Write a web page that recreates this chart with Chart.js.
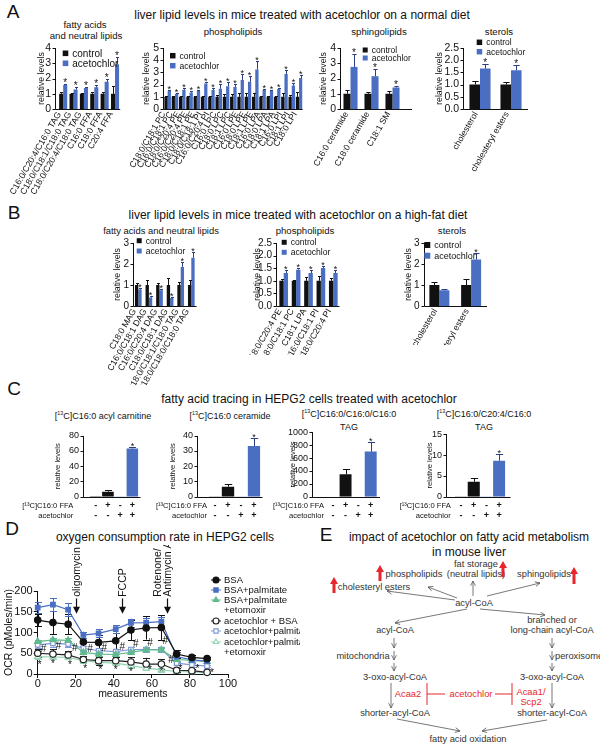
<!DOCTYPE html>
<html>
<head>
<meta charset="utf-8">
<script src="https://cdn.jsdelivr.net/npm/chart.js@4.4.1/dist/chart.umd.min.js"></script>
<style>
body { margin: 0; width: 600px; height: 745px; position: relative; overflow: hidden; background: #fff;
       font-family: "Liberation Sans", Arial, Helvetica, sans-serif; color: #111; }
.t { position: absolute; white-space: nowrap; transform: translate(-50%, -50%); line-height: 1; }
.p { position: absolute; font-size: 19px; line-height: 1; transform: translate(-50%, -50%); }
canvas { position: absolute; }
sup { font-size: 60%; line-height: 0; }
</style>
</head>
<body>
<div class="p" style="left:13px;top:11px">A</div>
<div class="p" style="left:14px;top:212px">B</div>
<div class="p" style="left:14px;top:388px">C</div>
<div class="p" style="left:12px;top:528px">D</div>
<div class="p" style="left:326px;top:534px">E</div>

<div class="t" style="left:302px;top:15px;font-size:12px">liver lipid levels in mice treated with acetochlor on a normal diet</div>
<div class="t" style="left:85px;top:25px;font-size:9.6px">fatty acids</div>
<div class="t" style="left:86px;top:36px;font-size:9.6px">and neutral lipids</div>
<div class="t" style="left:233px;top:32px;font-size:9.6px">phospholipids</div>
<div class="t" style="left:379px;top:32px;font-size:9.6px">sphingolipids</div>
<div class="t" style="left:499px;top:32px;font-size:9.6px">sterols</div>

<div class="t" style="left:298px;top:215px;font-size:12px">liver lipid levels in mice treated with acetochlor on a high-fat diet</div>
<div class="t" style="left:161px;top:231px;font-size:9.4px">fatty acids and neutral lipids</div>
<div class="t" style="left:305px;top:231px;font-size:9.6px">phospholipids</div>
<div class="t" style="left:452px;top:231px;font-size:9.6px">sterols</div>

<div class="t" style="left:309px;top:399px;font-size:12px">fatty acid tracing in HEPG2 cells treated with acetochlor</div>
<div class="t" style="left:103px;top:416px;font-size:9px">[<sup>13</sup>C]C16:0 acyl carnitine</div>
<div class="t" style="left:230px;top:416px;font-size:9px">[<sup>13</sup>C]C16:0 ceramide</div>
<div class="t" style="left:349px;top:414px;font-size:9px">[<sup>13</sup>C]C16:0/C16:0/C16:0</div>
<div class="t" style="left:349px;top:427px;font-size:9px">TAG</div>
<div class="t" style="left:484px;top:414px;font-size:9px">[<sup>13</sup>C]C16:0/C20:4/C16:0</div>
<div class="t" style="left:484px;top:427px;font-size:9px">TAG</div>

<div class="t" style="left:165px;top:537px;font-size:12px">oxygen consumption rate in HEPG2 cells</div>

<svg width="300" height="225" style="position:absolute;left:300px;top:520px"
     font-family="Liberation Sans, Arial, Helvetica, sans-serif">
  <defs>
    <marker id="ah" viewBox="0 0 10 10" refX="9" refY="5" markerWidth="6" markerHeight="6"
            orient="auto" markerUnits="userSpaceOnUse">
      <path d="M1,1 L9,5 L1,9" fill="none" stroke="#555" stroke-width="1.3"/>
    </marker>
  </defs>
  <text x="169" y="17" font-size="12" text-anchor="middle" dominant-baseline="central" fill="#111">impact of acetochlor on fatty acid metabolism</text>
  <text x="169" y="32" font-size="12" text-anchor="middle" dominant-baseline="central" fill="#111">in mouse liver</text>
  <g font-size="9.3" fill="#333" text-anchor="middle" dominant-baseline="central">
    <text x="176" y="44">fat storage</text>
    <text x="176" y="54">(neutral lipids)</text>
    <text x="114" y="54">phospholipids</text>
    <text x="244" y="54">sphingolipids</text>
    <text x="74" y="67">cholesteryl esters</text>
    <text x="174" y="83">acyl-CoA</text>
    <text x="95" y="110">acyl-CoA</text>
    <text x="252" y="100">branched or</text>
    <text x="252" y="110">long-chain acyl-CoA</text>
    <text x="63" y="136">mitochondria</text>
    <text x="255" y="136" text-anchor="start">peroxisome</text>
    <text x="95" y="157">3-oxo-acyl-CoA</text>
    <text x="252" y="157">3-oxo-acyl-CoA</text>
    <text x="95" y="193">shorter-acyl-CoA</text>
    <text x="252" y="193">shorter-acyl-CoA</text>
    <text x="168" y="219">fatty acid oxidation</text>
  </g>
  <g stroke="#555" stroke-width="0.8" fill="none" marker-end="url(#ah)">
    <line x1="157" y1="78" x2="128" y2="67"/>
    <line x1="155" y1="80" x2="87" y2="71"/>
    <line x1="173" y1="76" x2="173" y2="61"/>
    <line x1="187" y1="76" x2="240" y2="63"/>
    <line x1="167" y1="89" x2="95" y2="103"/>
    <line x1="180" y1="89" x2="245" y2="95"/>
    <line x1="94" y1="118" x2="94" y2="128"/>
    <line x1="94" y1="131" x2="94" y2="140"/>
    <line x1="94" y1="143" x2="94" y2="151"/>
    <line x1="252" y1="118" x2="252" y2="128"/>
    <line x1="252" y1="131" x2="252" y2="140"/>
    <line x1="252" y1="143" x2="252" y2="151"/>
    <line x1="91" y1="163" x2="91" y2="188"/>
    <line x1="252" y1="163" x2="252" y2="188"/>
    <line x1="97" y1="199" x2="160" y2="211"/>
    <line x1="247" y1="200" x2="182" y2="211"/>
  </g>
  <g fill="#e8262b">
    <polygon points="203,41 207,48 204.5,48 204.5,57 201.5,57 201.5,48 199,48"/>
    <polygon points="80,45 84,52 81.5,52 81.5,61 78.5,61 78.5,52 76,52"/>
    <polygon points="274,47 278,54 275.5,54 275.5,64 272.5,64 272.5,54 270,54"/>
    <polygon points="34,57 38,64 35.5,64 35.5,73 32.5,73 32.5,64 30,64"/>
  </g>
  <g stroke="#e8262b" stroke-width="1">
    <line x1="127" y1="174" x2="145" y2="174"/>
    <line x1="127" y1="163" x2="127" y2="185"/>
    <line x1="195" y1="174" x2="212" y2="174"/>
    <line x1="212" y1="163" x2="212" y2="185"/>
  </g>
  <g font-size="9.3" fill="#e8262b" text-anchor="middle" dominant-baseline="central">
    <text x="108" y="174">Acaa2</text>
    <text x="171" y="174">acetochlor</text>
    <text x="231" y="172">Acaa1/</text>
    <text x="231" y="182">Scp2</text>
  </g>
</svg>

<script>
const FONT = '"Liberation Sans", Arial, Helvetica, sans-serif';
const BLACK = '#111111', BLUE = '#4a6fc2', BLUE_D = '#2b3f80';

// ---- A: normal diet ----
const aFaLabels = ['C16:0/C20:4/C16:0 TAG', 'C18:0/C18:1/C18:0 TAG', 'C18:0/C20:4/C18:0 TAG', 'C16:0 FFA', 'C18:0 FFA', 'C20:4 FFA'];
const aFaCtrl = [1, 1, 1, 1, 1, 1];
const aFaCtrlErr = [0.11, 0.04, 0.04, 0.13, 0.13, 0.5];
const aFaAceto = [1.57, 1.28, 1.37, 1.42, 1.78, 2.93];
const aFaAcetoErr = [0.06, 0.16, 0.09, 0.15, 0.18, 0.48];
const aFaStars = [1, 1, 1, 1, 1, 1];

const aPlLabels = ['C18:0/C18:1 PC', 'C16:0/C18:1 PC', 'C18:0/C20:4 PE', 'C16:0/C20:4 PE', 'C18:0/C18:1 PE',
  'C18:0/C18:1 PI', 'C16:0/C20:4 PI', 'C16:0 LPC', 'C18:0 LPC', 'C18:1 LPC', 'C16:0 LPE', 'C18:0 LPE',
  'C18:1 LPE', 'C16:0 LPA', 'C18:0 LPA', 'C18:1 LPA', 'C16:0 LPI', 'C18:1 LPI', 'C18:0 LPI'];
const aPlCtrl = [1, 1, 1, 1, 1, 1, 1, 1, 1, 1, 1, 1, 1, 1, 1, 1, 1, 1, 1];
const aPlCtrlErr = [0.08, 0.06, 0.06, 0.08, 0.06, 0.08, 0.08, 0.12, 0.2, 0.25, 0.3, 0.3, 0.35, 0.1, 0.1, 0.08, 0.3, 0.12, 0.4];
const aPlAceto = [1.47, 1.24, 1.58, 1.35, 1.47, 2.1, 1.55, 1.66, 1.87, 1.81, 2.38, 2.23, 3.24, 1.55, 1.47, 1.63, 2.87, 1.92, 2.54];
const aPlAcetoErr = [0.08, 0.06, 0.12, 0.1, 0.1, 0.15, 0.15, 0.35, 0.35, 0.25, 0.45, 0.45, 0.7, 0.05, 0.12, 0.1, 0.35, 0.2, 0.25];
const aPlStars = aPlLabels.map(() => 1);

const aSpLabels = ['C16:0 ceramide', 'C18:0 ceramide', 'C18:1 SM'];
const aSpCtrl = [1, 1, 1];
const aSpCtrlErr = [0.24, 0.1, 0.17];
const aSpAceto = [2.76, 2.15, 1.41];
const aSpAcetoErr = [0.87, 0.5, 0.09];
const aSpStars = [1, 1, 1];

const aStLabels = ['cholesterol', 'cholesteryl esters'];
const aStCtrl = [1, 1];
const aStCtrlErr = [0.14, 0.11];
const aStAceto = [1.66, 1.59];
const aStAcetoErr = [0.2, 0.23];
const aStStars = [1, 1];

// ---- B: high-fat diet ----
const bFaLabels = ['C18:0 MAG', 'C16:0/C18:1 DAG', 'C16:0/C20:4 DAG', 'C18:0/C18:1 DAG', 'C18:0/C18:1/C18:0 TAG', 'C18:0/C18:0/C18:0 TAG'];
const bFaCtrl = [1, 1, 1, 1, 1, 1];
const bFaCtrlErr = [0.1, 0.25, 0.1, 0.33, 0.14, 0.25];
const bFaAceto = [0.78, 0.4, 0.75, 0.38, 1.86, 2.3];
const bFaAcetoErr = [0.08, 0.06, 0.08, 0.06, 0.24, 0.27];
const bFaStars = [1, 1, 1, 1, 1, 1];

const bPlLabels = ['C18:0/C20:4 PE', 'C18:0/C18:1 PC', 'C18:1 LPA', 'C16:0/C18:1 PI', 'C18:0/C20:4 PI'];
const bPlCtrl = [1, 1, 1, 1, 1];
const bPlCtrlErr = [0.08, 0.03, 0.15, 0.21, 0.13];
const bPlAceto = [1.31, 1.44, 1.31, 1.51, 1.31];
const bPlAcetoErr = [0.1, 0.07, 0.13, 0.09, 0.1];
const bPlStars = [1, 1, 1, 1, 1];

const bStLabels = ['cholesterol', 'cholesteryl esters'];
const bStCtrl = [1, 1];
const bStCtrlErr = [0.15, 0.27];
const bStAceto = [0.75, 2.21];
const bStAcetoErr = [0.08, 0.3];
const bStStars = [0, 1];

// ---- C: tracing ----
const cLabels = [['-', '-'], ['+', '-'], ['-', '+'], ['+', '+']];
const cRows = ['[\u00b9\u00b3C]C16:0 FFA', 'acetochlor'];
const cCarn = [0.6, 6.6, 0.4, 63.3];
const cCarnErr = [0, 2.1, 0, 1.3];
const cCer = [0.1, 6.6, 0.1, 33.2];
const cCerErr = [0, 1.5, 0, 5.1];
const cTag1 = [0, 347, 0, 700];
const cTag1Err = [0, 88, 0, 150];
const cTag2 = [0.05, 3.6, 0.05, 8.66];
const cTag2Err = [0, 0.8, 0, 1.6];
const cStars = [0, 0, 0, 1];

// ---- D: OCR ----
const dX = [0, 8, 16, 24, 32, 41, 49, 57, 65, 73, 81, 89];
const dBsa = [130, 124, 120, 77, 76, 80, 106, 111, 112, 48, 40, 37];
const dBsaErr = [15, 28, 24, 10, 18, 20, 25, 28, 30, 10, 5, 4];
const dPalm = [160, 167, 155, 94, 98, 108, 123, 124, 126, 42, 34, 31];
const dPalmErr = [14, 15, 15, 8, 10, 10, 10, 12, 12, 10, 5, 4];
const dEto = [78, 82, 81, 52, 48, 47, 52, 58, 58, 35, 33, 30];
const dEtoErr = [5, 5, 5, 5, 5, 5, 5, 5, 5, 5, 3, 3];
const dAcBsa = [50, 48, 46, 35, 32, 32, 29, 24, 24, 9, 8, 4];
const dAcBsaErr = [10, 12, 10, 8, 10, 10, 12, 15, 12, 5, 3, 2];
const dAcPalm = [70, 74, 72, 62, 56, 54, 59, 59, 59, 26, 22, 19];
const dAcPalmErr = [8, 8, 8, 6, 6, 6, 6, 6, 6, 5, 4, 3];
const dAcEto = [42, 41, 40, 32, 28, 26, 20, 14, 10, 6, 5, 3];
const dAcEtoErr = [5, 5, 5, 5, 5, 5, 5, 5, 5, 3, 2, 2];
const dNames = ['BSA', 'BSA+palmitate', ['BSA+palmitate', '+etomoxir'], 'acetochlor + BSA',
  'acetochlor+palmitate', ['acetochlor+palmitate', '+etomoxir']];
const dDrugs = [['oligomycin'], ['FCCP'], ['Rotenone/', 'Antimycin A']];
const dDrugX = [20, 44.5, 68];
const dHash = [[3, 60], [11, 66], [19.5, 63], [27.5, 60], [35, 63], [44.5, 65], [51.5, 72], [59, 75], [67, 79], [70, 34]];
const dStar = [[1, 25], [8, 28], [17, 25], [25, 17], [33, 14], [41, 14], [49, 10], [59, 14], [65, 10], [75, 17], [84, 17], [91.5, 7]];

Chart.defaults.font.family = FONT;
Chart.defaults.color = '#111';
Chart.defaults.animation = false;

// axes, error bars, stars, legends, row headers for the bar panels
const gp = {
  id: 'gp',
  afterDatasetsDraw(chart, args, o) {
    const ctx = chart.ctx, a = chart.chartArea, ys = chart.scales.y, xs = chart.scales.x;
    const ax = Math.round(a.left - (o.gap || 0)) + 0.5;
    const by = Math.round(a.bottom) + 0.5;
    ctx.save();
    ctx.lineWidth = 1;
    ctx.strokeStyle = '#111';
    ctx.beginPath();
    ctx.moveTo(ax, Math.round(a.top));
    ctx.lineTo(ax, by);
    ctx.lineTo(a.right + (o.xExt || 0), by);
    ys.ticks.forEach(t => {
      const y = Math.round(ys.getPixelForValue(t.value)) + 0.5;
      ctx.moveTo(ax - 3, y);
      ctx.lineTo(ax, y);
    });
    ctx.stroke();

    const ss = o.starSize || 10;
    chart.data.datasets.forEach((ds, i) => {
      chart.getDatasetMeta(i).data.forEach((bar, j) => {
        let top = bar.y;
        const e = ds.errors ? ds.errors[j] : 0;
        if (e) {
          const ye = Math.round(ys.getPixelForValue(ds.data[j] + e)) + 0.5;
          const bx = Math.round(bar.x) + 0.5;
          const hw = Math.max(1.5, bar.width * 0.3);
          ctx.strokeStyle = Array.isArray(ds.errColor) ? ds.errColor[j] : ds.errColor;
          ctx.beginPath();
          ctx.moveTo(bx, bar.y);
          ctx.lineTo(bx, ye);
          ctx.moveTo(bx - hw, ye);
          ctx.lineTo(bx + hw, ye);
          ctx.stroke();
          top = ye;
        }
        if (ds.stars && ds.stars[j]) {
          ctx.fillStyle = '#111';
          ctx.font = ss + 'px ' + FONT;
          ctx.textAlign = 'center';
          ctx.textBaseline = 'alphabetic';
          ctx.fillText('*', bar.x, top + 0.42 * ss - 2.5);
        }
      });
    });

    if (o.legend) {
      const L = o.legend;
      ctx.font = L.size + 'px ' + FONT;
      ctx.textAlign = 'left';
      ctx.textBaseline = 'middle';
      chart.data.datasets.forEach((ds, i) => {
        const x = L.x - o.ox, y = L.y + i * L.dy - o.oy;
        ctx.fillStyle = ds.backgroundColor;
        ctx.fillRect(x, y - L.sq / 2, L.sq, L.sq);
        ctx.fillStyle = '#111';
        ctx.fillText(ds.label, x + L.sq + 4, y + 0.5);
      });
    }
    if (o.headers) {
      const H = o.headers;
      ctx.font = H.size + 'px ' + FONT;
      ctx.fillStyle = '#111';
      ctx.textAlign = 'right';
      ctx.textBaseline = 'middle';
      cRows.forEach((t, k) => ctx.fillText(t, H.right - o.ox, xs.top + H.pad + (k + 0.5) * H.lh));
    }
    ctx.restore();
  }
};

function pair(ctrl, ctrlErr, aceto, acetoErr, stars, pct) {
  return [
    { label: 'control', data: ctrl, errors: ctrlErr, backgroundColor: BLACK, errColor: BLACK,
      categoryPercentage: pct, barPercentage: 1 },
    { label: 'acetochlor', data: aceto, errors: acetoErr, stars: stars, backgroundColor: BLUE, errColor: BLUE_D,
      categoryPercentage: pct, barPercentage: 1 }
  ];
}

function single(values, errs, pct) {
  return [{ label: 'levels', data: values, errors: errs, stars: cStars,
    backgroundColor: [BLACK, BLACK, BLUE, BLUE], errColor: [BLACK, BLACK, BLUE_D, BLUE_D],
    categoryPercentage: pct, barPercentage: 1 }];
}

function barChart(o) {
  const ts = o.titleSize || 8.7;
  const lh = ts * 1.2;
  const scaleLeft = o.titleX - lh / 2;
  const yW = o.area[0] - scaleLeft;
  const xH = o.cy + o.ch - o.area[3];
  const cv = document.createElement('canvas');
  cv.width = o.cw;
  cv.height = o.ch;
  cv.style.left = o.cx + 'px';
  cv.style.top = o.cy + 'px';
  cv.style.width = o.cw + 'px';
  cv.style.height = o.ch + 'px';
  document.body.appendChild(cv);
  return new Chart(cv, {
    type: 'bar',
    data: { labels: o.labels, datasets: o.datasets },
    options: {
      responsive: false,
      devicePixelRatio: 1,
      layout: { padding: { left: scaleLeft - o.cx, top: o.area[1] - o.cy, right: o.cx + o.cw - o.area[2], bottom: 0 } },
      plugins: {
        legend: { display: false },
        tooltip: { enabled: false },
        gp: { gap: o.gap || 0, xExt: o.xExt || 0, ox: o.cx, oy: o.cy, legend: o.legend,
              headers: o.headers, starSize: o.starSize }
      },
      scales: {
        x: {
          grid: { display: false, drawTicks: false },
          border: { display: false },
          ticks: { autoSkip: false, maxRotation: o.rot, minRotation: o.rot, padding: o.xPad,
                   labelOffset: o.labelOffset || 0, font: o.xFont, color: '#111' },
          afterFit: s => { s.height = xH; s.paddingLeft = 0; s.paddingRight = 0; }
        },
        y: {
          min: 0, max: o.yMax,
          grid: { display: false, drawTicks: false },
          border: { display: false },
          ticks: { stepSize: o.yStep, autoSkip: false, padding: (o.gap || 0) + 4, font: { size: o.tickSize || 10.5 },
                   color: '#111', callback: v => o.yDec ? v.toFixed(o.yDec) : v },
          title: { display: true, text: 'relative levels', font: { size: ts }, padding: 0, color: '#111' },
          afterFit: s => { s.width = yW; s.paddingTop = 0; s.paddingBottom = 0; }
        }
      }
    },
    plugins: [gp]
  });
}

const rotFont = { size: 8.7 };

// Panel A
barChart({ cx: 4, cy: 30, cw: 122, ch: 170, area: [58, 48, 120.2, 109], gap: 3, titleX: 41.7,
  labels: aFaLabels, datasets: pair(aFaCtrl, aFaCtrlErr, aFaAceto, aFaAcetoErr, aFaStars, 0.78),
  yMax: 4, yStep: 1, rot: 60, xFont: rotFont, xPad: 1, labelOffset: -4,
  legend: { x: 62.7, y: 53.3, dy: 10, size: 10, sq: 5.6 } });
barChart({ cx: 120, cy: 30, cw: 190, ch: 170, area: [164, 48, 302.7, 109], gap: 1, titleX: 146.7,
  labels: aPlLabels, datasets: pair(aPlCtrl, aPlCtrlErr, aPlAceto, aPlAcetoErr, aPlStars, 0.9),
  yMax: 5, yStep: 1, rot: 60, xFont: rotFont, xPad: 1, labelOffset: -4, starSize: 9,
  legend: { x: 170, y: 55.7, dy: 10, size: 8.6, sq: 5.5 } });
barChart({ cx: 300, cy: 30, cw: 120, ch: 170, area: [340, 48, 403, 109], gap: 0, xExt: 9, titleX: 323.3,
  labels: aSpLabels, datasets: pair(aSpCtrl, aSpCtrlErr, aSpAceto, aSpAcetoErr, aSpStars, 0.67),
  yMax: 4, yStep: 1, rot: 60, xFont: rotFont, xPad: 1, labelOffset: -4,
  legend: { x: 362.7, y: 50, dy: 8, size: 8.5, sq: 5 } });
barChart({ cx: 425, cy: 30, cw: 115, ch: 170, area: [464.5, 48, 526.5, 109], gap: 1.5, xExt: 1.5, titleX: 440,
  labels: aStLabels, datasets: pair(aStCtrl, aStCtrlErr, aStAceto, aStAcetoErr, aStStars, 0.68),
  yMax: 2.5, yStep: 0.5, yDec: 1, rot: 60, xFont: rotFont, xPad: 1, labelOffset: -4,
  legend: { x: 476.7, y: 42.3, dy: 9.4, size: 8.5, sq: 5.5 } });

// Panel B
barChart({ cx: 60, cy: 233, cw: 145, ch: 152, area: [133, 243, 196.6, 306], gap: 0, titleX: 117.3,
  labels: bFaLabels, datasets: pair(bFaCtrl, bFaCtrlErr, bFaAceto, bFaAcetoErr, bFaStars, 0.63),
  yMax: 3, yStep: 1, tickSize: 10, rot: 60, xFont: rotFont, xPad: 1, labelOffset: -4, starSize: 9,
  legend: { x: 136.7, y: 240.7, dy: 10.3, size: 8.6, sq: 5 } });
barChart({ cx: 215, cy: 233, cw: 135, ch: 122, area: [277.5, 243, 339.5, 306], gap: 1.5, titleX: 257.7,
  labels: bPlLabels, datasets: pair(bPlCtrl, bPlCtrlErr, bPlAceto, bPlAcetoErr, bPlStars, 0.7),
  yMax: 2.5, yStep: 0.5, yDec: 1, tickSize: 10, rot: 60, xFont: rotFont, xPad: 1, labelOffset: -4, starSize: 9,
  legend: { x: 281.7, y: 242.3, dy: 10, size: 8.6, sq: 5 } });
barChart({ cx: 380, cy: 233, cw: 120, ch: 112, area: [423.5, 243, 487, 306], gap: 0, titleX: 408.3,
  labels: bStLabels, datasets: pair(bStCtrl, bStCtrlErr, bStAceto, bStAcetoErr, bStStars, 0.63),
  yMax: 3, yStep: 1, tickSize: 10, rot: 60, xFont: rotFont, xPad: 1, labelOffset: -4, starSize: 9,
  legend: { x: 424.3, y: 245, dy: 10.7, size: 9, sq: 6 } });

// Panel C
const cFont = { size: 9, weight: 'bold', lineHeight: '10px' };
const cHead = (right) => ({ right: right, size: 7.6, pad: 4, lh: 10 });
barChart({ cx: 20, cy: 425, cw: 130, ch: 100, area: [89.6, 435.7, 138.5, 496.7], gap: 6.6, xExt: 2, titleX: 58.3,
  labels: cLabels, datasets: single(cCarn, cCarnErr, 0.95), yMax: 80, yStep: 20, tickSize: 9, titleSize: 7.6,
  rot: 0, xFont: cFont, xPad: 4, starSize: 9, headers: cHead(73.3) });
barChart({ cx: 150, cy: 425, cw: 120, ch: 100, area: [208.5, 435.7, 260.5, 496.7], gap: 11.5, xExt: 2, titleX: 173.3,
  labels: cLabels, datasets: single(cCer, cCerErr, 0.95), yMax: 40, yStep: 10, tickSize: 9, titleSize: 7.6,
  rot: 0, xFont: cFont, xPad: 4, starSize: 9, headers: cHead(207) });
barChart({ cx: 265, cy: 425, cw: 120, ch: 100, area: [326.7, 432.3, 377, 496.7], gap: 14.7, xExt: 3, titleX: 293,
  labels: cLabels, datasets: single(cTag1, cTag1Err, 0.95), yMax: 1000, yStep: 200, tickSize: 9, titleSize: 7.6,
  rot: 0, xFont: cFont, xPad: 4, starSize: 9, headers: cHead(324) });
barChart({ cx: 390, cy: 425, cw: 125, ch: 100, area: [454.7, 434.3, 505.5, 496.7], gap: 8.7, xExt: 5, titleX: 430,
  labels: cLabels, datasets: single(cTag2, cTag2Err, 0.95), yMax: 15, yStep: 5, tickSize: 9, titleSize: 7.6,
  rot: 0, xFont: cFont, xPad: 4, starSize: 9, headers: cHead(450.7) });

// Panel D
const dSeries = [
  { y: dBsa, e: dBsaErr, color: '#111111', style: 'circle', open: false },
  { y: dPalm, e: dPalmErr, color: '#4a6fc2', style: 'rect', open: false },
  { y: dEto, e: dEtoErr, color: '#5fba8c', style: 'triangle', open: false },
  { y: dAcBsa, e: dAcBsaErr, color: '#222222', style: 'circle', open: true },
  { y: dAcPalm, e: dAcPalmErr, color: '#7f99d8', style: 'rect', open: true },
  { y: dAcEto, e: dAcEtoErr, color: '#94d3b3', style: 'triangle', open: true }
];

const dPlug = {
  id: 'dExtras',
  beforeDatasetsDraw(chart) {
    const ctx = chart.ctx, xs = chart.scales.x, ys = chart.scales.y;
    ctx.save();
    ctx.lineWidth = 1;
    chart.data.datasets.forEach(ds => {
      ctx.strokeStyle = ds.borderColor;
      ds.data.forEach((p, j) => {
        const x = Math.round(xs.getPixelForValue(p.x)) + 0.5;
        const y1 = ys.getPixelForValue(p.y + ds.errors[j]), y2 = ys.getPixelForValue(Math.max(0, p.y - ds.errors[j]));
        ctx.beginPath();
        ctx.moveTo(x, y1); ctx.lineTo(x, y2);
        ctx.moveTo(x - 3.5, Math.round(y1) + 0.5); ctx.lineTo(x + 3.5, Math.round(y1) + 0.5);
        ctx.moveTo(x - 3.5, Math.round(y2) + 0.5); ctx.lineTo(x + 3.5, Math.round(y2) + 0.5);
        ctx.stroke();
      });
    });
    ctx.restore();
  },
  afterDatasetsDraw(chart) {
    const ctx = chart.ctx, xs = chart.scales.x, ys = chart.scales.y;
    ctx.save();
    ctx.fillStyle = '#111';
    ctx.strokeStyle = '#111';
    ctx.font = '10px ' + FONT;
    ctx.textAlign = 'center';
    ctx.textBaseline = 'middle';
    dHash.forEach(p => ctx.fillText('#', xs.getPixelForValue(p[0]), ys.getPixelForValue(p[1])));
    dStar.forEach(p => ctx.fillText('*', xs.getPixelForValue(p[0]), ys.getPixelForValue(p[1]) + 2));

    // drug injection arrows
    dDrugX.forEach((dx, k) => {
      const x = Math.round(xs.getPixelForValue(dx)) + 0.5;
      const yTop = ys.getPixelForValue(182), yTip = ys.getPixelForValue(145);
      ctx.lineWidth = 1.2;
      ctx.beginPath();
      ctx.moveTo(x, yTop); ctx.lineTo(x, yTip - 5);
      ctx.stroke();
      ctx.beginPath();
      ctx.moveTo(x - 3.5, yTip - 7); ctx.lineTo(x + 3.5, yTip - 7); ctx.lineTo(x, yTip);
      ctx.closePath();
      ctx.fill();
      const lines = dDrugs[k];
      ctx.save();
      ctx.font = '10.5px ' + FONT;
      ctx.textAlign = 'left';
      ctx.textBaseline = 'middle';
      lines.forEach((t, i) => {
        const lx = x + 1 - 10 * (lines.length - 1 - i);
        ctx.save();
        ctx.translate(lx, ys.getPixelForValue(186));
        ctx.rotate(-Math.PI / 2);
        ctx.fillText(t, 0, 0);
        ctx.restore();
      });
      ctx.restore();
    });

    // legend
    const rows = [580, 590, 600, 621, 631, 642];
    ctx.font = '9.5px ' + FONT;
    ctx.textAlign = 'left';
    ctx.textBaseline = 'middle';
    chart.data.datasets.forEach((ds, i) => {
      const mx = 216, my = rows[i] - 545;
      ctx.strokeStyle = ds.borderColor;
      ctx.lineWidth = 1;
      ctx.beginPath();
      ctx.moveTo(mx - 5, my); ctx.lineTo(mx + 5, my);
      ctx.stroke();
      ctx.fillStyle = ds.pointBackgroundColor;
      ctx.strokeStyle = ds.borderColor;
      ctx.lineWidth = 1.2;
      Chart.helpers.drawPoint(ctx, { pointStyle: ds.pointStyle, radius: 3, borderWidth: 1.2, rotation: 0 }, mx, my);
      ctx.fillStyle = '#111';
      const name = dNames[i];
      const lines = Array.isArray(name) ? name : [name];
      lines.forEach((t, k) => ctx.fillText(t, mx + 8, my + k * 10));
    });
    ctx.restore();
  }
};

(function () {
  const cx = 0, cy = 545, cw = 300, ch = 200;
  const area = [37.7, 591, 228, 674];
  const ts = 10.5, lh = ts * 1.2;
  const scaleLeft = 9 - lh / 2;
  const cv = document.createElement('canvas');
  cv.width = cw; cv.height = ch;
  cv.style.left = cx + 'px'; cv.style.top = cy + 'px';
  cv.style.width = cw + 'px'; cv.style.height = ch + 'px';
  document.body.appendChild(cv);
  new Chart(cv, {
    type: 'line',
    data: {
      datasets: dSeries.map((s, i) => ({
        label: Array.isArray(dNames[i]) ? dNames[i].join(' ') : dNames[i],
        data: dX.map((x, j) => ({ x: x, y: s.y[j] })),
        errors: s.e,
        borderColor: s.color,
        backgroundColor: s.color,
        pointBackgroundColor: s.open ? '#ffffff' : s.color,
        pointBorderColor: s.color,
        pointStyle: s.style,
        pointRadius: s.style === 'triangle' ? 3.6 : 3.2,
        pointBorderWidth: 1.2,
        borderWidth: 1.2,
        tension: 0,
        clip: false
      }))
    },
    options: {
      responsive: false,
      devicePixelRatio: 1,
      layout: { padding: { left: scaleLeft - cx, top: area[1] - cy, right: cx + cw - area[2], bottom: 0 } },
      plugins: { legend: { display: false }, tooltip: { enabled: false } },
      scales: {
        x: {
          type: 'linear', min: 0, max: 100,
          grid: { drawOnChartArea: false, drawTicks: true, tickLength: 4, color: '#111' },
          border: { color: '#111', width: 1 },
          ticks: { stepSize: 20, padding: -1, font: { size: 11 }, color: '#111' },
          title: { display: true, text: 'measurements', font: { size: ts }, padding: { top: 0, bottom: 45 }, color: '#111' },
          afterFit: s => { s.height = cy + ch - area[3]; s.paddingLeft = 0; s.paddingRight = 0; }
        },
        y: {
          min: 0, max: 200,
          grid: { drawOnChartArea: false, drawTicks: true, tickLength: 4, color: '#111' },
          border: { color: '#111', width: 1 },
          ticks: { stepSize: 50, padding: 1, font: { size: 11 }, color: '#111' },
          title: { display: true, text: 'OCR (pMoles/min)', font: { size: ts }, padding: 0, color: '#111' },
          afterFit: s => { s.width = area[0] - scaleLeft; s.paddingTop = 0; s.paddingBottom = 0; }
        }
      }
    },
    plugins: [dPlug]
  });
})();
</script>
</body>
</html>
